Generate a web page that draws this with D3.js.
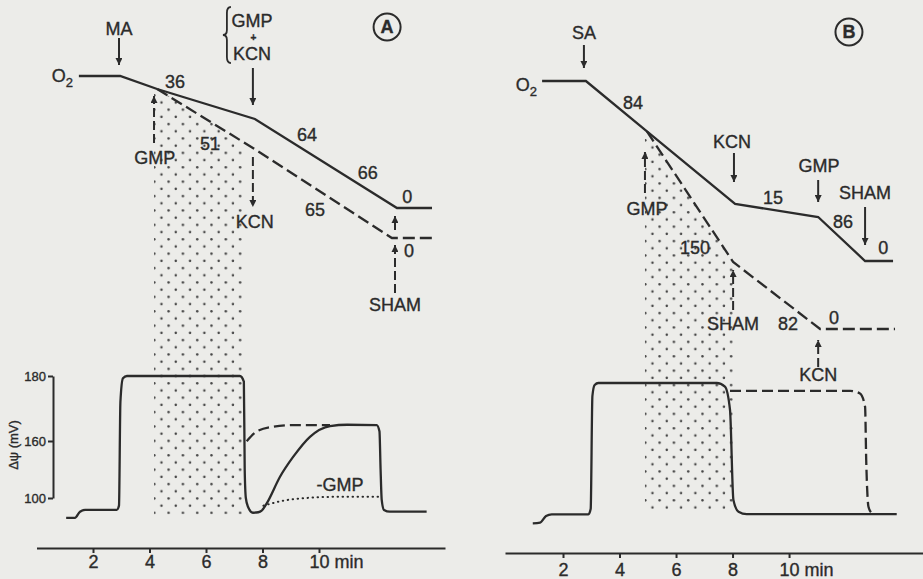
<!DOCTYPE html>
<html>
<head>
<meta charset="utf-8">
<script src="https://cdn.jsdelivr.net/npm/d3@7"></script>
<style>
  body { margin: 0; background: #ecece9; }
  svg { display: block; font-family: "Liberation Sans", Arial, sans-serif; }
  text { stroke: #2b2b2b; stroke-width: 0.35px; }
</style>
</head>
<body>
<svg id="chart"></svg>
<script>
// ---- data (time in min, O2 in arbitrary units, potential in mV) ----
const timeTicks = [2, 4, 6, 8, 10];
const psiTicks = [100, 160, 180];

// panel A: oxygen electrode traces
const o2SolidA = [[1.50, 137], [2.96, 137], [4.27, 130.5], [7.73, 115.5], [12.76, 71], [14.0, 71]];
const o2DashedA = [[4.27, 130.5], [7.66, 101], [12.58, 56], [14.1, 56]];
// panel A: membrane potential
const psiSolidA = [[1.05, 79], [1.36, 79], [1.54, 85.6], [1.72, 87.4], [2.84, 87.4], [2.92, 92],
  [2.97, 172], [3.06, 179.3], [3.2, 180], [7.2, 180], [7.34, 178.3], [7.37, 130], [7.41, 100],
  [7.49, 90.5], [7.66, 84.5], [7.85, 85], [7.97, 86.6], [8.15, 94.4], [8.62, 122.4], [9.09, 143.5],
  [9.68, 161.3], [10.39, 164.6], [11.0, 165], [12.04, 164.9], [12.14, 163], [12.18, 130],
  [12.22, 97.9], [12.3, 87.4], [12.51, 85.6], [13.81, 85.6]];
const psiDashedA = [[7.44, 159.8], [7.79, 162.9], [8.38, 164.4], [9.09, 164.9], [10.39, 164.9]];
const psiDottedA = [[8.03, 91.9], [8.74, 97.2], [9.68, 100.3], [10.5, 101.2], [12.16, 101.4]];
const gmpA = [4.16, 7.33];

// panel B
const o2SolidB = [[1.26, 134.5], [2.81, 134.5], [4.97, 109.3], [8.09, 73], [11.03, 66.5], [12.69, 44.5], [13.68, 44.5]];
const o2DashedB = [[4.97, 109.3], [8.02, 44], [11.10, 10.5], [13.75, 10.5]];
const psiSolidB = [[0.93, 80.7], [1.19, 81.4], [1.40, 88.4], [1.60, 90.2], [2.90, 90.2], [2.98, 96],
  [3.04, 176], [3.12, 179.4], [3.25, 180], [7.44, 180], [7.73, 178.9], [7.91, 171.7], [8.03, 105.3],
  [8.21, 93], [8.5, 90.5], [13.81, 90.5]];
const psiDashedB = [[7.91, 177.6], [12.16, 177.6], [12.51, 176.8], [12.69, 172.7], [12.73, 147.4],
  [12.81, 98.2], [12.93, 91.3]];
const gmpB = [4.90, 8.03];

// annotations: [text, t, O2 level]
const labelsA = [["MA", 2.92, 160.5], ["36", 4.90, 134], ["GMP", 4.19, 96], ["51", 6.14, 103],
  ["64", 9.58, 107.5], ["66", 11.73, 88.5], ["65", 9.86, 70], ["KCN", 7.73, 64], ["0", 13.12, 76.5],
  ["0", 13.19, 49.5], ["SHAM", 12.69, 22.5], ["GMP", 7.63, 164.5], ["KCN", 7.63, 148]];
const labelsB = [["SA", 2.74, 158.5], ["84", 4.48, 123.5], ["KCN", 7.98, 104], ["15", 9.43, 76],
  ["GMP", 11.06, 92], ["SHAM", 12.69, 78.5], ["86", 11.91, 64], ["0", 13.33, 51], ["GMP", 4.97, 70.5],
  ["150", 6.67, 51], ["SHAM", 8.02, 13], ["82", 9.96, 13], ["0", 11.59, 16], ["KCN", 11.03, -12.5]];
// arrows: [t, from, to, dashed]
const arrowsA = [[2.92, 156, 142.5, false], [7.66, 141, 122.5, false], [4.16, 103.5, 127, true],
  [7.66, 96.5, 71.5, true], [12.69, 60, 67, false], [12.69, 28.5, 52.5, true]];
const arrowsB = [[2.74, 152.5, 141, false], [8.05, 98.5, 84, false], [11.03, 85, 74, false],
  [12.69, 71.5, 52.5, false], [4.90, 78.5, 99, true], [8.02, 20, 40, true], [11.03, -8.5, 5, true]];

// ---- setup ----
const width = 923, height = 579;
const ink = "#2b2b2b";
const lw = 2.3;
const svg = d3.select("#chart").attr("width", width).attr("height", height);

const defs = svg.append("defs");
defs.append("marker")
  .attr("id", "head")
  .attr("viewBox", "0 0 10 10")
  .attr("refX", 10).attr("refY", 5)
  .attr("markerUnits", "userSpaceOnUse")
  .attr("markerWidth", 9).attr("markerHeight", 7)
  .attr("orient", "auto")
  .append("path").attr("d", "M0,0L10,5L0,10Z").attr("fill", ink);

function dotPattern(id, x0, y0) {
  const p = defs.append("pattern")
    .attr("id", id)
    .attr("patternUnits", "userSpaceOnUse")
    .attr("x", x0).attr("y", y0)
    .attr("width", 14.3).attr("height", 14.4);
  p.append("circle").attr("cx", 1.3).attr("cy", 1.3).attr("r", 1.25).attr("fill", "#444");
  p.append("circle").attr("cx", 8.45).attr("cy", 8.5).attr("r", 1.25).attr("fill", "#444");
}
dotPattern("dotsA", 153, 94);
dotPattern("dotsB", 644, 139);

const o2Y = d3.scaleLinear().domain([0, 150]).range([350, 50]);

function interp(pts, t) {
  for (let i = 1; i < pts.length; i++) {
    if (t <= pts[i][0]) {
      const a = pts[i - 1], b = pts[i];
      return a[1] + (b[1] - a[1]) * (t - a[0]) / (b[0] - a[0]);
    }
  }
  return pts[pts.length - 1][1];
}

function drawPanel(p) {
  const g = svg.append("g");
  const x = p.x, psiY = p.psiY;

  // stippled region while GMP is present
  const top = t => t < p.o2Dashed[0][0] ? interp(p.o2Solid, t) : interp(p.o2Dashed, t);
  const ts = [p.gmp[0], ...p.o2Dashed.map(d => d[0]).filter(t => t > p.gmp[0] && t < p.gmp[1]), p.gmp[1]];
  const poly = ts.map(t => [x(t), o2Y(top(t))]);
  poly.push([x(p.gmp[1]), psiY(p.stippleBottom)], [x(p.gmp[0]), psiY(p.stippleBottom)]);
  g.append("path")
    .attr("d", "M" + poly.join("L") + "Z")
    .attr("fill", `url(#${p.pattern})`);

  // O2 traces
  const o2Line = d3.line().x(d => x(d[0])).y(d => o2Y(d[1]));
  g.append("path").attr("d", o2Line(p.o2Solid))
    .attr("fill", "none").attr("stroke", ink).attr("stroke-width", lw);
  g.append("path").attr("d", o2Line(p.o2Dashed))
    .attr("fill", "none").attr("stroke", ink).attr("stroke-width", lw)
    .attr("stroke-dasharray", "12,5");

  // membrane potential traces
  const psiLine = d3.line().x(d => x(d[0])).y(d => psiY(d[1])).curve(d3.curveMonotoneX);
  g.append("path").attr("d", psiLine(p.psiSolid))
    .attr("fill", "none").attr("stroke", ink).attr("stroke-width", lw);
  g.append("path").attr("d", psiLine(p.psiDashed))
    .attr("fill", "none").attr("stroke", ink).attr("stroke-width", lw)
    .attr("stroke-dasharray", "11,5");
  if (p.psiDotted) {
    g.append("path").attr("d", psiLine(p.psiDotted))
      .attr("fill", "none").attr("stroke", ink).attr("stroke-width", 2)
      .attr("stroke-linecap", "round")
      .attr("stroke-dasharray", "0.5,4.5");
  }

  // time axis
  const ax = g.append("g")
    .attr("transform", `translate(0,${p.axisY})`)
    .call(d3.axisBottom(x).tickValues(timeTicks).tickSize(5).tickPadding(p.tickPad).tickSizeOuter(0));
  ax.select(".domain").attr("stroke", ink).attr("stroke-width", 2);
  ax.selectAll(".tick line").attr("stroke", ink).attr("stroke-width", 2);
  ax.selectAll(".tick text")
    .attr("font-size", 18).attr("font-family", "Liberation Sans, Arial, sans-serif").attr("fill", ink)
    .filter(d => d === 10)
    .text("10 min").attr("text-anchor", "start").attr("x", -10);

  // O2 label
  const o2t = g.append("text")
    .attr("x", x(p.o2Label[0])).attr("y", o2Y(p.o2Label[1]))
    .attr("dy", "0.36em").attr("text-anchor", "end")
    .attr("font-size", 18).attr("fill", ink);
  o2t.append("tspan").text("O");
  o2t.append("tspan").text("2").attr("font-size", 13).attr("dy", 5);

  // arrows
  p.arrows.forEach(a => {
    g.append("line")
      .attr("x1", x(a[0])).attr("x2", x(a[0]))
      .attr("y1", o2Y(a[1])).attr("y2", o2Y(a[2]))
      .attr("stroke", ink).attr("stroke-width", 2)
      .attr("stroke-dasharray", a[3] ? "9,4" : null)
      .attr("marker-end", "url(#head)");
  });

  // labels
  p.labels.forEach(l => {
    g.append("text")
      .attr("x", x(l[1])).attr("y", o2Y(l[2]))
      .attr("dy", "0.36em").attr("text-anchor", "middle")
      .attr("font-size", 18).attr("fill", ink)
      .text(l[0]);
  });

  // circled panel letter
  g.append("circle")
    .attr("cx", x(p.tag[1])).attr("cy", o2Y(p.tag[2])).attr("r", 13.5)
    .attr("fill", "none").attr("stroke", ink).attr("stroke-width", 2);
  g.append("text")
    .attr("x", x(p.tag[1])).attr("y", o2Y(p.tag[2]))
    .attr("dy", "0.36em").attr("text-anchor", "middle")
    .attr("font-size", 18).attr("font-weight", "bold").attr("fill", ink)
    .text(p.tag[0]);
  return g;
}

// ---- panel A ----
const xA = d3.scaleLinear().domain([0, 14.46]).range([36.5, 445]);
const psiA = d3.scaleLinear().domain([100, 160, 180]).range([498, 441, 376]);
const gA = drawPanel({
  x: xA, psiY: psiA, axisY: 548, tickPad: 2,
  o2Solid: o2SolidA, o2Dashed: o2DashedA,
  psiSolid: psiSolidA, psiDashed: psiDashedA, psiDotted: psiDottedA,
  gmp: gmpA, stippleBottom: 83, pattern: "dotsA",
  labels: labelsA, arrows: arrowsA, o2Label: [1.29, 137], tag: ["A", 12.41, 161.5]
});

// GMP + KCN brace and plus sign
const bx = xA(6.74), bTop = o2Y(171.5), bBot = o2Y(143.5), bMid = (bTop + bBot) / 2;
gA.append("path")
  .attr("d", `M${bx + 4},${bTop} Q${bx},${bTop} ${bx},${bTop + 6} L${bx},${bMid - 5} Q${bx},${bMid} ${bx - 4},${bMid}` +
    ` Q${bx},${bMid} ${bx},${bMid + 5} L${bx},${bBot - 6} Q${bx},${bBot} ${bx + 4},${bBot}`)
  .attr("fill", "none").attr("stroke", ink).attr("stroke-width", 1.8);
gA.append("text")
  .attr("x", xA(7.68)).attr("y", o2Y(156.3)).attr("dy", "0.36em")
  .attr("text-anchor", "middle").attr("font-size", 10).attr("font-weight", "bold").attr("fill", ink)
  .text("+");
gA.append("text")
  .attr("x", xA(10.74)).attr("y", psiA(113.7)).attr("dy", "0.36em")
  .attr("text-anchor", "middle").attr("font-size", 18).attr("fill", ink)
  .text("-GMP");

// potential axis (broken scale)
const yAx = svg.append("g")
  .attr("transform", "translate(53,0)")
  .call(d3.axisLeft(psiA).tickValues(psiTicks).tickSize(5).tickPadding(2).tickSizeOuter(0));
yAx.select(".domain").attr("stroke", ink).attr("stroke-width", 2);
yAx.selectAll(".tick line").attr("stroke", ink).attr("stroke-width", 2);
yAx.selectAll(".tick text").attr("font-size", 13).attr("fill", ink)
  .attr("font-family", "Liberation Sans, Arial, sans-serif");
svg.append("text")
  .attr("transform", "translate(13,445) rotate(-90)")
  .attr("dy", "0.36em").attr("text-anchor", "middle")
  .attr("font-size", 13).attr("fill", ink)
  .text("Δψ (mV)");

// ---- panel B ----
const xB = d3.scaleLinear().domain([-0.053, 14.74]).range([505, 923]);
const psiB = d3.scaleLinear().domain([100, 160, 180]).range([505, 448, 383]);
drawPanel({
  x: xB, psiY: psiB, axisY: 553, tickPad: 5,
  o2Solid: o2SolidB, o2Dashed: o2DashedB,
  psiSolid: psiSolidB, psiDashed: psiDashedB, psiDotted: null,
  gmp: gmpB, stippleBottom: 95.5, pattern: "dotsB",
  labels: labelsB, arrows: arrowsB, o2Label: [1.08, 132.5], tag: ["B", 12.12, 159]
});
</script>
</body>
</html>
